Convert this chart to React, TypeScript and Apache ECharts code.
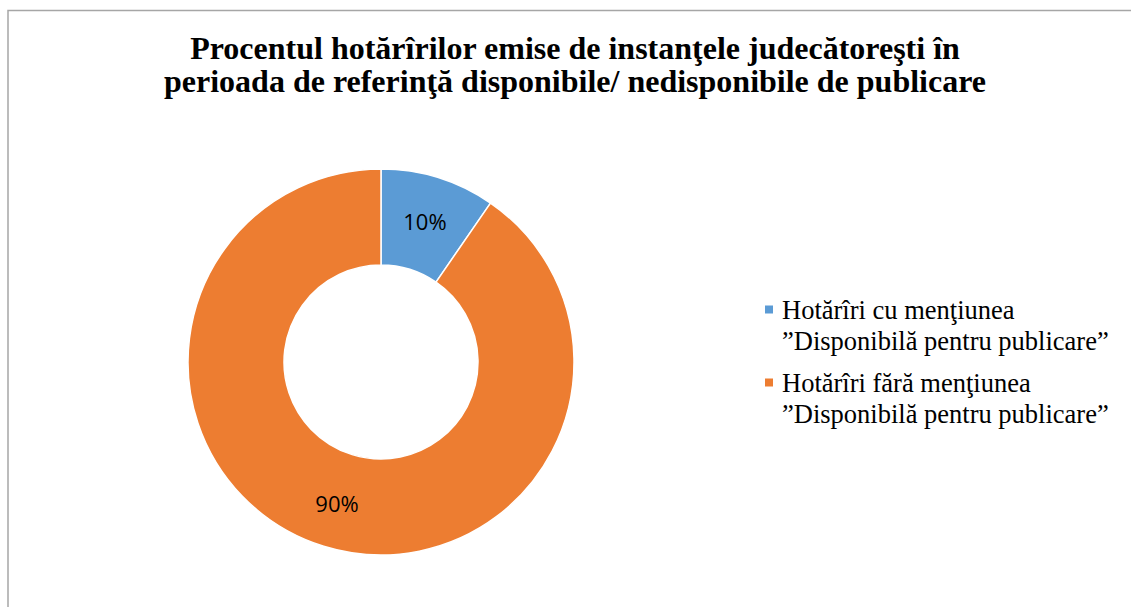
import React, { useEffect, useRef } from "react";
import * as echarts from "echarts";

const titleLines = [
  "Procentul hotărîrilor emise de instanţele judecătoreşti în",
  "perioada de referinţă disponibile/ nedisponibile de publicare",
];
const categories = [
  "Hotărîri cu menţiunea\n”Disponibilă pentru publicare”",
  "Hotărîri fără menţiunea\n”Disponibilă pentru publicare”",
];
const values = [9.6, 90.4];
const colors = ["#5B9BD5", "#ED7D31"];

export default function App() {
  const ref = useRef<HTMLDivElement>(null);
  useEffect(() => {
    if (!ref.current) return;
    const chart = echarts.init(ref.current, undefined, { renderer: "svg" });
    chart.setOption({
      animation: false,
      backgroundColor: "#ffffff",
      title: {
        text: titleLines.join("\n"),
        left: 575,
        top: 31,
        padding: 0,
        textAlign: "center",
        textStyle: {
          fontFamily: "Liberation Serif",
          fontWeight: "bold",
          fontSize: 32,
          lineHeight: 33,
          color: "#000000",
        },
      },
      legend: {
        orient: "vertical",
        left: 763,
        top: 263,
        padding: 0,
        itemWidth: 10,
        itemHeight: 10,
        itemGap: -20,
        icon: "rect",
        data: categories,
        formatter: (name: string) => "\n" + name,
        textStyle: {
          fontFamily: "Liberation Serif",
          fontSize: 26.5,
          lineHeight: 31,
          color: "#000000",
          padding: [0, 0, 0, 3],
        },
      },
      graphic: [
        {
          type: "rect",
          shape: { x: 8, y: 10.5, width: 1300, height: 800 },
          style: { fill: "none", stroke: "#A6A6A6", lineWidth: 1.5 },
          silent: true,
        },
      ],
      series: [
        {
          type: "pie",
          center: [381, 362],
          radius: [97, 193],
          startAngle: 90,
          clockwise: true,
          color: colors,
          itemStyle: { borderColor: "#ffffff", borderWidth: 1.5 },
          label: {
            show: true,
            position: "inside",
            formatter: (p: any) => Math.round(p.percent) + "%",
            fontFamily: "Open Sans",
            fontSize: 22,
            color: "#000000",
          },
          labelLine: { show: false },
          emphasis: { disabled: true },
          data: categories.map((name, i) => ({ name, value: values[i] })),
        },
      ],
    });
    return () => chart.dispose();
  }, []);
  return (
    <div
      ref={ref}
      style={{ position: "absolute", left: 0, top: 0, width: 1131, height: 607 }}
    />
  );
}
